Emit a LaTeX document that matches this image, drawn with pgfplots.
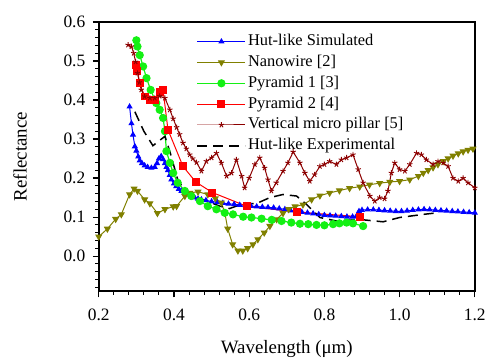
\documentclass[border=0pt]{standalone}
\usepackage{fontspec}
\setmainfont{Liberation Serif}
\usepackage{pgfplots}
\pgfplotsset{compat=1.18}
\definecolor{hutblue}{RGB}{0,0,255}
\definecolor{nanoolive}{RGB}{128,128,0}
\definecolor{pyrgreen}{RGB}{20,240,20}
\definecolor{pyrred}{RGB}{255,0,0}
\definecolor{pillar}{RGB}{140,0,0}
\begin{document}
\begin{tikzpicture}
\path (-99bp,-68bp) rectangle (390bp,292bp);
\begin{axis}[
  at={(0,0)}, anchor=south west,
  scale only axis, width=377bp, height=270bp,
  xmin=0.2, xmax=1.2, ymin=-0.09, ymax=0.6,
  xtick={0.2,0.4,0.6,0.8,1.0,1.2},
  ytick={0,0.1,0.2,0.3,0.4,0.5,0.6},
  minor xtick={0.24,0.28,0.32,0.36,0.44,0.48,0.52,0.56,0.64,0.68,0.72,0.76,0.84,0.88,0.92,0.96,1.04,1.08,1.12,1.16},
  minor ytick={-0.08,-0.06,-0.04,-0.02,0.02,0.04,0.06,0.08,0.12,0.14,0.16,0.18,0.22,0.24,0.26,0.28,0.32,0.34,0.36,0.38,0.42,0.44,0.46,0.48,0.52,0.54,0.56,0.58},
  tick pos=left, tick align=outside,
  major tick length=6bp, minor tick length=3.5bp,
  major tick style={black, line width=1.2bp},
  minor tick style={black, line width=1bp},
  axis line style={black, line width=1.6bp},
  tick label style={font=\fontsize{17.5}{20}\selectfont},
  xticklabel style={yshift=-8bp},
  yticklabel style={xshift=-4bp},
  /pgf/number format/fixed, /pgf/number format/fixed zerofill,
  /pgf/number format/precision=1, /pgf/number format/assume math mode=true,
  xlabel={Wavelength (μm)}, ylabel={Reflectance},
  label style={font=\fontsize{19}{22}\selectfont},
  xlabel style={yshift=-13bp},
  ylabel style={yshift=30bp},
  legend cell align=left,
  legend style={at={(0.26,0.963)}, anchor=north west, draw=none, fill=none,
    inner sep=0pt, row sep=1.9bp, font=\fontsize{16.5}{19}\selectfont,
    nodes={inner sep=2bp, text height=11.5bp, text depth=3.5bp}},
  legend image code/.code={\draw[mark repeat=2,mark phase=2,#1] plot coordinates {(0bp,0bp) (24bp,0bp) (48bp,0bp)};},
]
\addplot[color=hutblue, line width=1bp, mark=triangle*, mark size=2.6bp] coordinates {
(0.282,0.383) (0.287,0.340) (0.291,0.311) (0.296,0.281) (0.300,0.270) (0.305,0.255) (0.309,0.245) (0.315,0.238) (0.322,0.232) (0.330,0.228) (0.340,0.226) (0.349,0.228) (0.355,0.238) (0.360,0.250) (0.366,0.256) (0.371,0.248) (0.376,0.238) (0.380,0.228) (0.384,0.220) (0.389,0.208) (0.393,0.196) (0.400,0.186) (0.406,0.179) (0.413,0.172) (0.420,0.167) (0.428,0.162) (0.437,0.158) (0.446,0.154) (0.455,0.150) (0.464,0.147) (0.473,0.145) (0.485,0.143) (0.500,0.140) (0.515,0.138) (0.530,0.136) (0.545,0.134) (0.560,0.133) (0.575,0.131) (0.590,0.130) (0.605,0.128) (0.620,0.127) (0.635,0.126) (0.650,0.125) (0.665,0.124) (0.680,0.122) (0.695,0.120) (0.710,0.117) (0.725,0.115) (0.740,0.113) (0.755,0.111) (0.770,0.109) (0.785,0.107) (0.800,0.105) (0.815,0.104) (0.830,0.103) (0.845,0.102) (0.860,0.101) (0.875,0.101) (0.885,0.102) (0.892,0.115) (0.900,0.118) (0.915,0.119) (0.930,0.119) (0.945,0.118) (0.960,0.117) (0.975,0.116) (0.990,0.115) (1.005,0.115) (1.020,0.116) (1.035,0.118) (1.050,0.119) (1.065,0.120) (1.080,0.119) (1.095,0.118) (1.110,0.117) (1.125,0.116) (1.140,0.115) (1.155,0.114) (1.170,0.113) (1.185,0.112) (1.200,0.111)
};
\addlegendentry{Hut-like Simulated}
\addplot[color=nanoolive, line width=1bp, mark=triangle*, mark size=3.2bp, mark options={rotate=180}] coordinates {
(0.200,0.050) (0.223,0.070) (0.245,0.095) (0.260,0.107) (0.282,0.158) (0.294,0.173) (0.303,0.167) (0.322,0.145) (0.336,0.135) (0.356,0.110) (0.376,0.120) (0.398,0.127) (0.407,0.128) (0.429,0.154) (0.442,0.162) (0.464,0.165) (0.490,0.158) (0.510,0.148) (0.526,0.137) (0.535,0.112) (0.543,0.070) (0.556,0.030) (0.570,0.014) (0.583,0.014) (0.596,0.020) (0.610,0.030) (0.623,0.043) (0.640,0.060) (0.655,0.077) (0.673,0.094) (0.690,0.110) (0.705,0.120) (0.722,0.127) (0.743,0.132) (0.766,0.145) (0.788,0.155) (0.814,0.162) (0.840,0.168) (0.867,0.174) (0.894,0.178) (0.920,0.183) (0.947,0.187) (0.974,0.190) (1.000,0.192) (1.027,0.196) (1.050,0.205) (1.063,0.213) (1.076,0.220) (1.089,0.227) (1.102,0.235) (1.116,0.243) (1.129,0.250) (1.142,0.257) (1.156,0.263) (1.169,0.268) (1.182,0.272) (1.195,0.275)
};
\addlegendentry{Nanowire [2]}
\addplot[color=pyrgreen, line width=1.2bp, mark=*, mark size=3.5bp] coordinates {
(0.300,0.553) (0.303,0.537) (0.309,0.515) (0.318,0.486) (0.327,0.456) (0.338,0.426) (0.353,0.392) (0.362,0.375) (0.371,0.354) (0.376,0.320) (0.380,0.269) (0.389,0.239) (0.398,0.213) (0.410,0.188) (0.429,0.167) (0.446,0.154) (0.469,0.141) (0.490,0.128) (0.513,0.120) (0.535,0.111) (0.557,0.107) (0.584,0.101) (0.606,0.099) (0.633,0.096) (0.660,0.093) (0.686,0.090) (0.712,0.086) (0.735,0.083) (0.757,0.082) (0.779,0.080) (0.800,0.079) (0.823,0.082) (0.840,0.084) (0.859,0.086) (0.876,0.084) (0.903,0.077)
};
\addlegendentry{Pyramid 1 [3]}
\addplot[color=pyrred, line width=1bp, mark=square*, mark size=3.5bp] coordinates {
(0.298,0.490) (0.303,0.475) (0.309,0.443) (0.322,0.409) (0.336,0.400) (0.349,0.400) (0.362,0.420) (0.371,0.426) (0.384,0.324) (0.424,0.230) (0.458,0.190) (0.502,0.163) (0.593,0.128) (0.726,0.113) (0.894,0.101)
};
\addlegendentry{Pyramid 2 [4]}
\addplot[color=pillar, line width=1bp, mark=star, mark size=2.8bp, mark options={line width=0.9bp}] coordinates {
(0.278,0.541) (0.287,0.537) (0.293,0.520) (0.298,0.498) (0.303,0.469) (0.308,0.445) (0.313,0.426) (0.322,0.409) (0.336,0.405) (0.349,0.405) (0.362,0.410) (0.376,0.405) (0.389,0.375) (0.398,0.352) (0.407,0.330) (0.415,0.312) (0.424,0.290) (0.433,0.275) (0.442,0.260) (0.450,0.250) (0.460,0.240) (0.473,0.218) (0.486,0.243) (0.500,0.252) (0.513,0.264) (0.526,0.239) (0.540,0.205) (0.553,0.213) (0.566,0.247) (0.580,0.205) (0.588,0.175) (0.600,0.200) (0.615,0.235) (0.628,0.252) (0.641,0.226) (0.650,0.196) (0.659,0.167) (0.672,0.188) (0.690,0.218) (0.703,0.239) (0.717,0.267) (0.735,0.239) (0.748,0.213) (0.761,0.192) (0.774,0.209) (0.788,0.230) (0.800,0.235) (0.814,0.243) (0.832,0.235) (0.845,0.247) (0.859,0.252) (0.876,0.260) (0.890,0.222) (0.903,0.188) (0.921,0.154) (0.934,0.141) (0.947,0.150) (0.960,0.147) (0.969,0.167) (0.978,0.213) (0.987,0.239) (1.000,0.222) (1.014,0.218) (1.027,0.235) (1.045,0.264) (1.058,0.260) (1.071,0.247) (1.089,0.235) (1.102,0.243) (1.116,0.239) (1.129,0.230) (1.142,0.200) (1.156,0.192) (1.169,0.200) (1.182,0.188) (1.200,0.175)
};
\addlegendentry{Vertical micro pillar [5]}
\addplot[color=black, line width=1.5bp, dash pattern=on 10bp off 6bp] coordinates {
(0.296,0.370) (0.320,0.320) (0.344,0.283) (0.360,0.295) (0.376,0.307) (0.390,0.265) (0.410,0.196) (0.433,0.162) (0.477,0.145) (0.522,0.128) (0.548,0.122) (0.580,0.133) (0.620,0.135) (0.655,0.150) (0.690,0.158) (0.726,0.154) (0.752,0.133) (0.788,0.099) (0.832,0.090) (0.894,0.094) (0.956,0.088) (1.000,0.099) (1.063,0.107) (1.100,0.111)
};
\addlegendentry{Hut-like Experimental}
\end{axis}
\end{tikzpicture}
\end{document}
